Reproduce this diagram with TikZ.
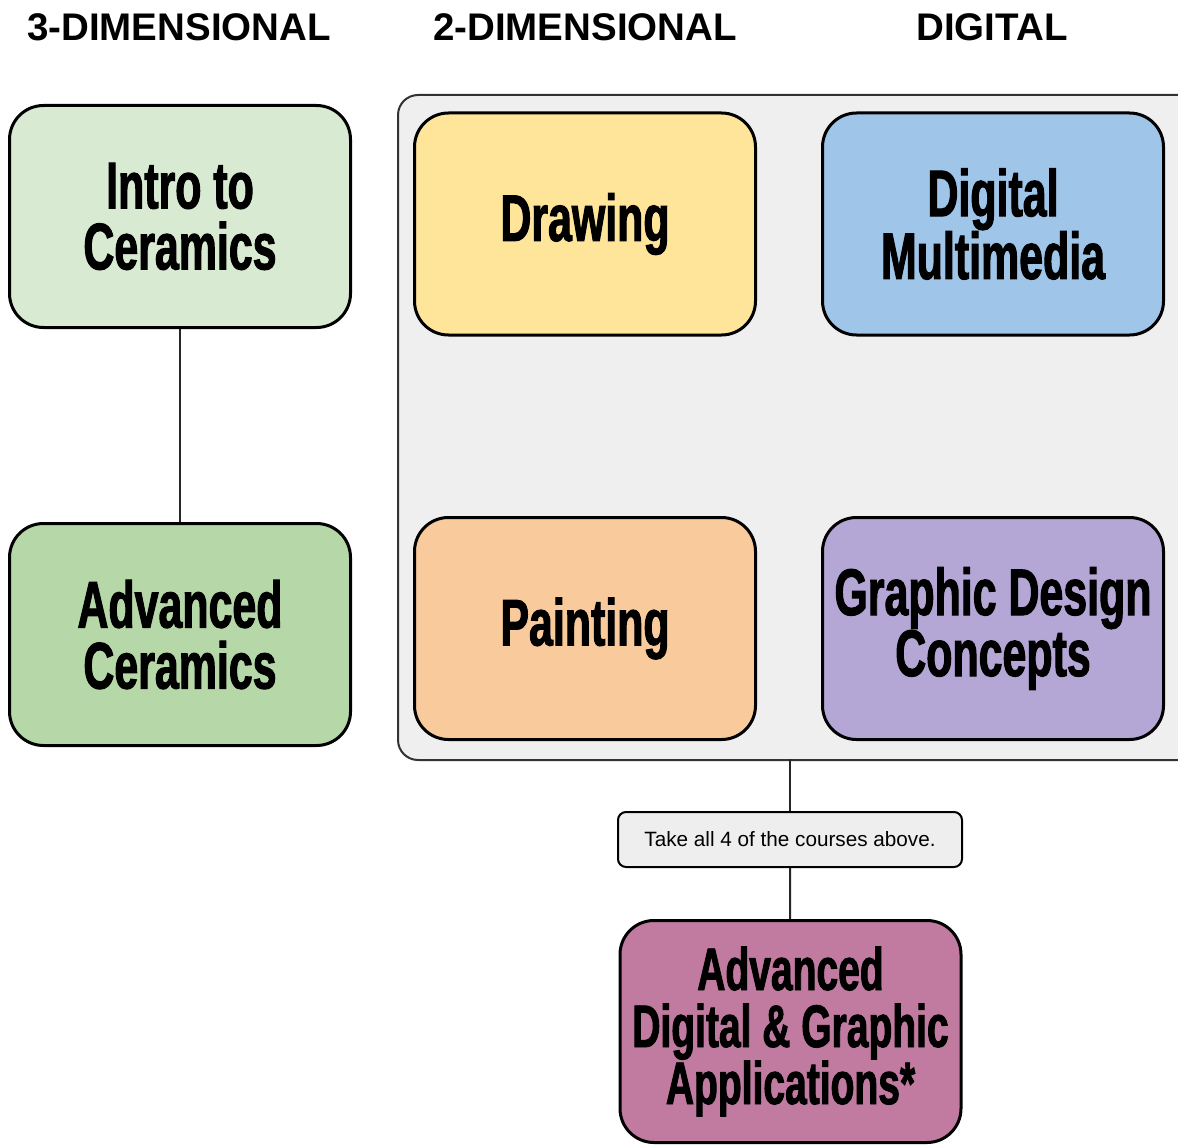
\documentclass[tikz,border=0pt]{standalone}
\usepackage{fontspec}
\setmainfont{Liberation Sans}
\newfontfamily\anton[FakeStretch=0.65,FakeBold=1.5]{Liberation Sans}
\newfontfamily\hdrfont{Liberation Sans}
\definecolor{cIntro}{HTML}{D9EAD3}
\definecolor{cAdvCer}{HTML}{B6D7A8}
\definecolor{cDraw}{HTML}{FFE599}
\definecolor{cDigi}{HTML}{9FC5E8}
\definecolor{cPaint}{HTML}{F9CB9C}
\definecolor{cGraph}{HTML}{B4A7D6}
\definecolor{cAdvDig}{HTML}{C27BA0}
\definecolor{cPanel}{HTML}{EFEFEF}
\definecolor{cNote}{HTML}{EEEEEE}
\begin{document}
\begin{tikzpicture}[x=1pt,y=-1pt,
  course/.style={draw=black, line width=3pt, rounded corners=34pt, minimum width=341pt, minimum height=222pt, inner sep=0pt, align=center, font=\anton\bfseries\fontsize{66}{61}\selectfont},
  header/.style={font=\hdrfont\bfseries\fontsize{38.5}{40}\selectfont, inner sep=0pt},
  panel/.style={draw=black!80, line width=2pt, rounded corners=20pt, fill=cPanel},
  note/.style={draw=black, line width=2pt, rounded corners=8pt, fill=cNote, minimum width=344pt, minimum height=55pt, inner sep=0pt, font=\fontsize{20.7}{24}\selectfont},
  link/.style={draw=black!85, line width=2pt}]
\useasboundingbox (0,0) rectangle (1178,1145);
\clip (0,0) rectangle (1178,1145);
\fill[white] (0,0) rectangle (1178,1145);

\node[header] (h3) at (179,27) {3-DIMENSIONAL};
\node[header] (h2) at (585,27) {2-DIMENSIONAL};
\node[header] (hd) at (992,27) {DIGITAL};

\node[panel, minimum width=800pt, minimum height=665pt, anchor=north west] (panel) at (397,94) {};
\coordinate (panelbot) at (790,759);

\node[course, fill=cIntro] (intro) at (180,216.5) {Intro to\\Ceramics};
\node[course, fill=cAdvCer] (advcer) at (180,634.5) {Advanced\\Ceramics};
\node[course, fill=cDraw] (draw) at (585,224) {Drawing};
\node[course, fill=cDigi] (digi) at (993,224) {Digital\\Multimedia};
\node[course, fill=cPaint] (paint) at (585,628.5) {Painting};
\node[course, fill=cGraph] (graph) at (993,628.5) {Graphic Design\\Concepts};

\node[note] (note) at (790,839.5) {Take all 4 of the courses above.};
\node[course, fill=cAdvDig, font=\anton\bfseries\fontsize{60}{57}\selectfont] (advdig) at (790.5,1031.5) {Advanced\\Digital \& Graphic\\Applications*};

\draw[link] (intro) -- (advcer);
\draw[link] (panelbot) -- (note);
\draw[link] (note) -- (advdig);
\end{tikzpicture}
\end{document}
